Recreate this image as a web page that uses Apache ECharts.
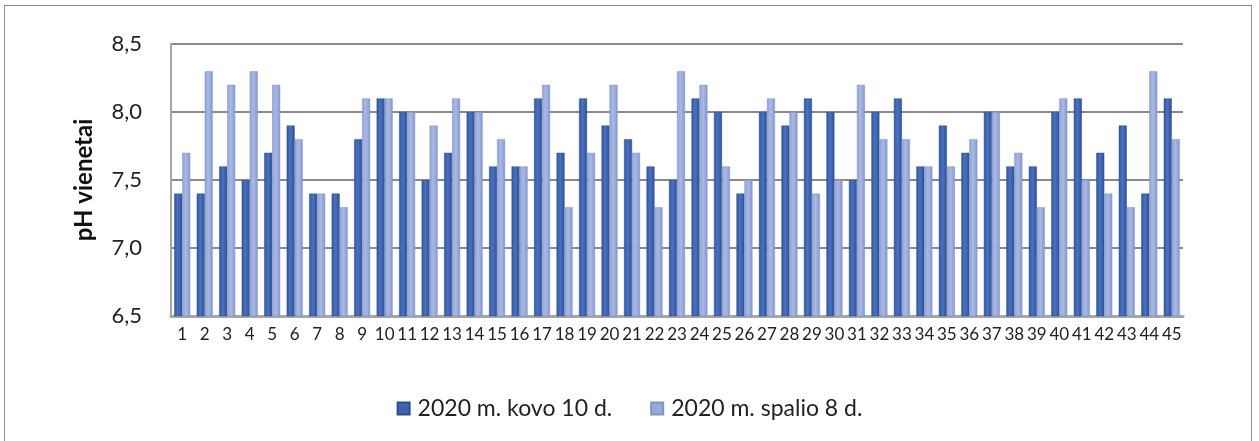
<!DOCTYPE html>
<html>
<head>
<meta charset="utf-8">
<script src="https://cdn.jsdelivr.net/npm/echarts@6/dist/echarts.min.js"></script>
<style>
html,body{margin:0;padding:0;background:#fff;}
#frame{position:absolute;left:4px;top:5px;width:1248px;height:450px;border:1px solid #8c8c8c;box-sizing:border-box;}
#chart{position:absolute;left:0;top:0;width:1259px;height:441px;}
</style>
</head>
<body>
<div id="frame"></div>
<div id="chart"></div>
<script>
const categories = ['1','2','3','4','5','6','7','8','9','10','11','12','13','14','15','16','17','18','19','20','21','22','23','24','25','26','27','28','29','30','31','32','33','34','35','36','37','38','39','40','41','42','43','44','45'];
const seriesNames = ['2020 m. kovo 10 d.', '2020 m. spalio 8 d.'];
const kovo = [7.4,7.4,7.6,7.5,7.7,7.9,7.4,7.4,7.8,8.1,8.0,7.5,7.7,8.0,7.6,7.6,8.1,7.7,8.1,7.9,7.8,7.6,7.5,8.1,8.0,7.4,8.0,7.9,8.1,8.0,7.5,8.0,8.1,7.6,7.9,7.7,8.0,7.6,7.6,8.0,8.1,7.7,7.9,7.4,8.1];
const spalio = [7.7,8.3,8.2,8.3,8.2,7.8,7.4,7.3,8.1,8.1,8.0,7.9,8.1,8.0,7.8,7.6,8.2,7.3,7.7,8.2,7.7,7.3,8.3,8.2,7.6,7.5,8.1,8.0,7.4,7.5,8.2,7.8,7.8,7.6,7.6,7.8,8.0,7.7,7.3,8.1,7.5,7.4,7.3,8.3,7.8];
const yTicks = [6.5, 7.0, 7.5, 8.0, 8.5];
const yAxisName = 'pH vienetai';

const chart = echarts.init(document.getElementById('chart'), null, {renderer:'canvas'});
const font = 'Lato, "Open Sans", sans-serif';
function grad(c1, c2, c3){
  return new echarts.graphic.LinearGradient(0,0,1,0,[
    {offset:0,color:c1},{offset:0.45,color:c2},{offset:1,color:c3}
  ]);
}
chart.setOption({
  animation:false,
  textStyle:{fontFamily:font},
  grid:{left:171, right:76, top:44, bottom:125, containLabel:false},
  legend:{
    top:392, left:'center',
    itemWidth:12, itemHeight:12, itemGap:38,
    textStyle:{fontSize:23, color:'#222', fontFamily:font, padding:[0,0,0,3]},
    icon:'rect',
    data:[{name:seriesNames[0], itemStyle:{color:'#3E64AE'}},{name:seriesNames[1], itemStyle:{color:'#97AADB'}}]
  },
  xAxis:{
    type:'category', data:categories,
    axisTick:{show:false},
    axisLine:{show:true, lineStyle:{color:'#a6a6a6', width:3}},
    axisLabel:{interval:0, fontSize:17, color:'#222', margin:10, fontFamily:font}
  },
  yAxis:{
    type:'value', min:yTicks[0], max:yTicks[yTicks.length-1], interval:0.5,
    name:yAxisName, nameLocation:'middle', nameGap:75, nameRotate:90,
    nameTextStyle:{fontSize:24, fontWeight:'bold', color:'#111', fontFamily:font},
    axisLine:{show:true, lineStyle:{color:'#a6a6a6', width:2}},
    axisTick:{show:false},
    splitLine:{lineStyle:{color:'#8a8a8a', width:2}},
    axisLabel:{fontSize:22, color:'#222', margin:29, fontFamily:font,
      formatter:function(v){return v.toFixed(1).replace('.', ',');}}
  },
  series:[
    {name:seriesNames[0], type:'bar', data:kovo, barWidth:8, barGap:'0%',
     itemStyle:{color:grad('#3356a0','#4a72c0','#2f5196'), borderColor:'#2d4d8f', borderWidth:0.5}},
    {name:seriesNames[1], type:'bar', data:spalio, barWidth:8,
     itemStyle:{color:grad('#8ea2d6','#aab9e4','#8598cc'), borderColor:'#7f93c6', borderWidth:0.5}}
  ]
});
</script>
</body>
</html>
